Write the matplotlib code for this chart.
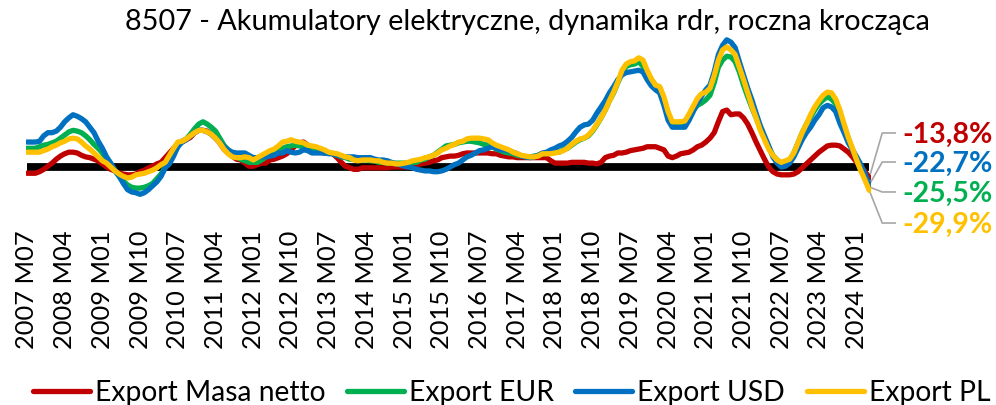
import numpy as np
import matplotlib
matplotlib.use("Agg")
import matplotlib.pyplot as plt

plt.rcParams['font.family'] = ['Lato', 'DejaVu Sans']

title = "8507 - Akumulatory elektryczne, dynamika rdr, roczna krocząca"
series_names = ["Export Masa netto", "Export EUR", "Export USD", "Export PL"]
colors = ["#C00000", "#00B050", "#0070C0", "#FFC000"]

tick_labels = ["2007 M07", "2008 M04", "2009 M01", "2009 M10", "2010 M07", "2011 M04",
               "2012 M01", "2012 M10", "2013 M07", "2014 M04", "2015 M01", "2015 M10",
               "2016 M07", "2017 M04", "2018 M01", "2018 M10", "2019 M07", "2020 M04",
               "2021 M01", "2021 M10", "2022 M07", "2023 M04", "2024 M01"]

# monthly y/y rolling dynamics (%), 2007 M07 .. 2024 M04
masa = [-8, -8, -8, -6, -3, 1, 5, 10, 14, 17,
        19, 19, 18, 15, 13, 12, 10, 8, 4, 0,
        -3, -5, -8, -9, -10, -10, -9, -6, -4, -1,
        1, 4, 6, 12, 18, 24, 28, 32, 35, 38,
        44, 47, 47, 46, 42, 37, 31, 23, 18, 14,
        10, 9, 5, 1, 1, 3, 5, 5, 9, 10,
        12, 14, 17, 22, 27, 31, 32, 28, 24, 22,
        19, 18, 18, 17, 12, 6, 1, -1, -3, -3,
        -1, -1, -1, -1, -1, -1, -1, 0, 0, 0,
        0, 0, 1, 3, 4, 5, 6, 8, 9, 12,
        13, 14, 14, 15, 17, 18, 18, 18, 18, 18,
        18, 17, 17, 15, 14, 13, 13, 12, 12, 12,
        12, 12, 12, 12, 12, 8, 5, 5, 5, 5,
        6, 6, 6, 6, 5, 5, 4, 6, 12, 14,
        15, 18, 18, 19, 21, 22, 23, 24, 26, 26,
        26, 24, 22, 14, 12, 14, 17, 18, 19, 22,
        26, 28, 32, 37, 44, 58, 71, 73, 67, 68,
        68, 63, 55, 44, 32, 21, 10, 0, -6, -9,
        -10, -10, -10, -9, -6, -1, 4, 9, 14, 19,
        23, 27, 28, 28, 27, 23, 19, 13, 6, 0,
        -6, -13.8]

eur = [24, 24, 24, 26, 28, 29, 31, 33, 37, 41,
       45, 47, 46, 44, 40, 35, 29, 24, 18, 9,
       1, -5, -12, -18, -23, -26, -27, -27, -26, -24,
       -21, -15, -9, 0, 9, 17, 26, 33, 36, 42,
       49, 55, 58, 55, 51, 46, 37, 28, 22, 17,
       13, 10, 8, 6, 6, 6, 9, 13, 18, 22,
       24, 24, 26, 27, 28, 27, 26, 24, 22, 21,
       19, 18, 18, 17, 15, 13, 12, 10, 10, 9,
       9, 9, 8, 8, 6, 6, 5, 5, 5, 5,
       5, 5, 6, 6, 9, 10, 13, 15, 19, 23,
       27, 28, 29, 31, 32, 33, 33, 32, 31, 29,
       28, 26, 23, 21, 19, 18, 17, 15, 14, 13,
       13, 14, 15, 17, 17, 18, 19, 19, 22, 24,
       28, 32, 35, 37, 40, 46, 54, 63, 73, 85,
       95, 108, 120, 129, 131, 132, 135, 129, 119, 112,
       105, 101, 86, 64, 56, 56, 56, 58, 64, 73,
       79, 82, 86, 92, 108, 128, 137, 142, 141, 135,
       122, 105, 90, 76, 63, 50, 37, 26, 15, 9,
       5, 5, 9, 18, 31, 44, 55, 64, 73, 81,
       86, 90, 87, 81, 68, 53, 37, 22, 9, -4,
       -14, -25.5]

usd = [32, 32, 32, 33, 40, 44, 44, 46, 51, 58,
       63, 67, 65, 62, 58, 51, 44, 33, 24, 13,
       5, -4, -12, -21, -29, -32, -33, -35, -33, -29,
       -24, -19, -12, -1, 4, 14, 26, 32, 35, 40,
       44, 47, 47, 45, 42, 37, 32, 26, 22, 19,
       18, 18, 18, 15, 12, 12, 13, 13, 14, 15,
       18, 18, 21, 19, 18, 19, 22, 21, 18, 18,
       18, 18, 17, 17, 15, 14, 13, 13, 13, 12,
       12, 12, 12, 10, 9, 9, 8, 6, 4, 3,
       1, 0, -1, -3, -4, -5, -5, -6, -6, -5,
       -3, 0, 3, 5, 9, 13, 15, 18, 21, 22,
       24, 26, 24, 22, 22, 21, 19, 17, 14, 13,
       12, 13, 15, 18, 19, 22, 24, 27, 29, 33,
       38, 45, 51, 54, 55, 60, 69, 77, 85, 95,
       103, 112, 118, 121, 122, 123, 124, 122, 112, 104,
       99, 95, 79, 60, 51, 51, 51, 51, 60, 71,
       82, 91, 99, 105, 122, 144, 156, 163, 160, 153,
       135, 118, 101, 86, 69, 53, 40, 27, 13, 5,
       0, 1, 5, 13, 24, 35, 44, 51, 60, 67,
       76, 79, 77, 71, 56, 44, 31, 22, 13, 3,
       -9, -22.7]

pln = [19, 19, 19, 19, 21, 23, 26, 28, 31, 33,
       36, 37, 36, 32, 27, 23, 18, 13, 8, 5,
       0, -5, -9, -12, -14, -13, -10, -9, -8, -6,
       -4, -1, 3, 6, 15, 24, 32, 33, 36, 40,
       44, 47, 47, 45, 42, 37, 31, 23, 17, 13,
       12, 12, 13, 12, 9, 12, 15, 18, 21, 23,
       27, 32, 33, 35, 33, 32, 31, 28, 27, 26,
       24, 22, 19, 18, 17, 15, 13, 12, 9, 8,
       9, 9, 9, 8, 8, 6, 5, 5, 4, 4,
       5, 6, 8, 9, 10, 12, 13, 15, 18, 22,
       24, 27, 29, 32, 33, 36, 37, 37, 37, 36,
       35, 31, 28, 26, 24, 22, 19, 17, 15, 14,
       13, 13, 14, 17, 17, 17, 18, 19, 21, 24,
       29, 33, 36, 37, 41, 47, 55, 63, 73, 85,
       96, 109, 124, 132, 135, 136, 140, 137, 124, 113,
       105, 103, 90, 71, 58, 58, 58, 59, 68, 78,
       88, 94, 96, 101, 117, 137, 150, 154, 150, 144,
       128, 112, 95, 78, 63, 47, 35, 23, 15, 9,
       6, 8, 10, 18, 31, 44, 55, 67, 77, 85,
       92, 96, 95, 87, 73, 55, 38, 24, 9, -5,
       -17, -29.9]

end_labels = ["-13,8%", "-22,7%", "-25,5%", "-29,9%"]
end_label_colors = ["#C00000", "#0070C0", "#00B050", "#FFC000"]
end_series = [masa, usd, eur, pln]
label_levels = [43.6, 6.4, -32.0, -71.8]

W, H = 996, 405
fig = plt.figure(figsize=(W / 100, H / 100), dpi=100)
ax = fig.add_axes([25.7 / W, 1 - 215 / H, (870.5 - 25.7) / W, 185 / H])

x = np.arange(len(masa))
zero = np.zeros(len(masa))
ax.plot(x, zero, color="black", lw=5.6, solid_capstyle="butt", zorder=1)

for data, name, c in zip([masa, eur, usd, pln], series_names, colors):
    ax.plot(x, data, color=c, lw=3.8, label=name, zorder=2,
            solid_joinstyle="round", solid_capstyle="round")

ax.set_xlim(-0.3, 201.3)
ax.set_ylim(-61.5, 175.6)
ax.set_yticks([])
ax.set_xticks(np.arange(0, len(masa), 9))
ax.set_xticklabels(tick_labels, rotation=90, fontsize=18.3)
ax.tick_params(axis="x", length=0, pad=11)
for s in ax.spines.values():
    s.set_visible(False)

# end labels with leader lines
last = len(masa) - 1
for data, lab, c, lvl in zip(end_series, end_labels, end_label_colors, label_levels):
    ax.plot([last, 204.1, 207.2], [data[-1], lvl, lvl], color="#A6A6A6", lw=1.2,
            clip_on=False, zorder=0)
    ax.text(208.8, lvl - 2.5, lab, color=c, fontsize=20.5, fontweight="bold",
            ha="left", va="center", clip_on=False)

fig.text(0.530, 1 - 22 / H, title, ha="center", va="center", fontsize=20.8)

handles, labels = ax.get_legend_handles_labels()
leg = fig.legend(handles, labels, loc="center left", bbox_to_anchor=(33 / W, 1 - 393 / H),
                 ncol=4, frameon=False, fontsize=20.3, handlelength=2.02,
                 handletextpad=0.18, columnspacing=0.76, borderaxespad=0, borderpad=0)
for l in leg.get_lines():
    l.set_linewidth(3.8)

fig.savefig("out.png", dpi=100)
